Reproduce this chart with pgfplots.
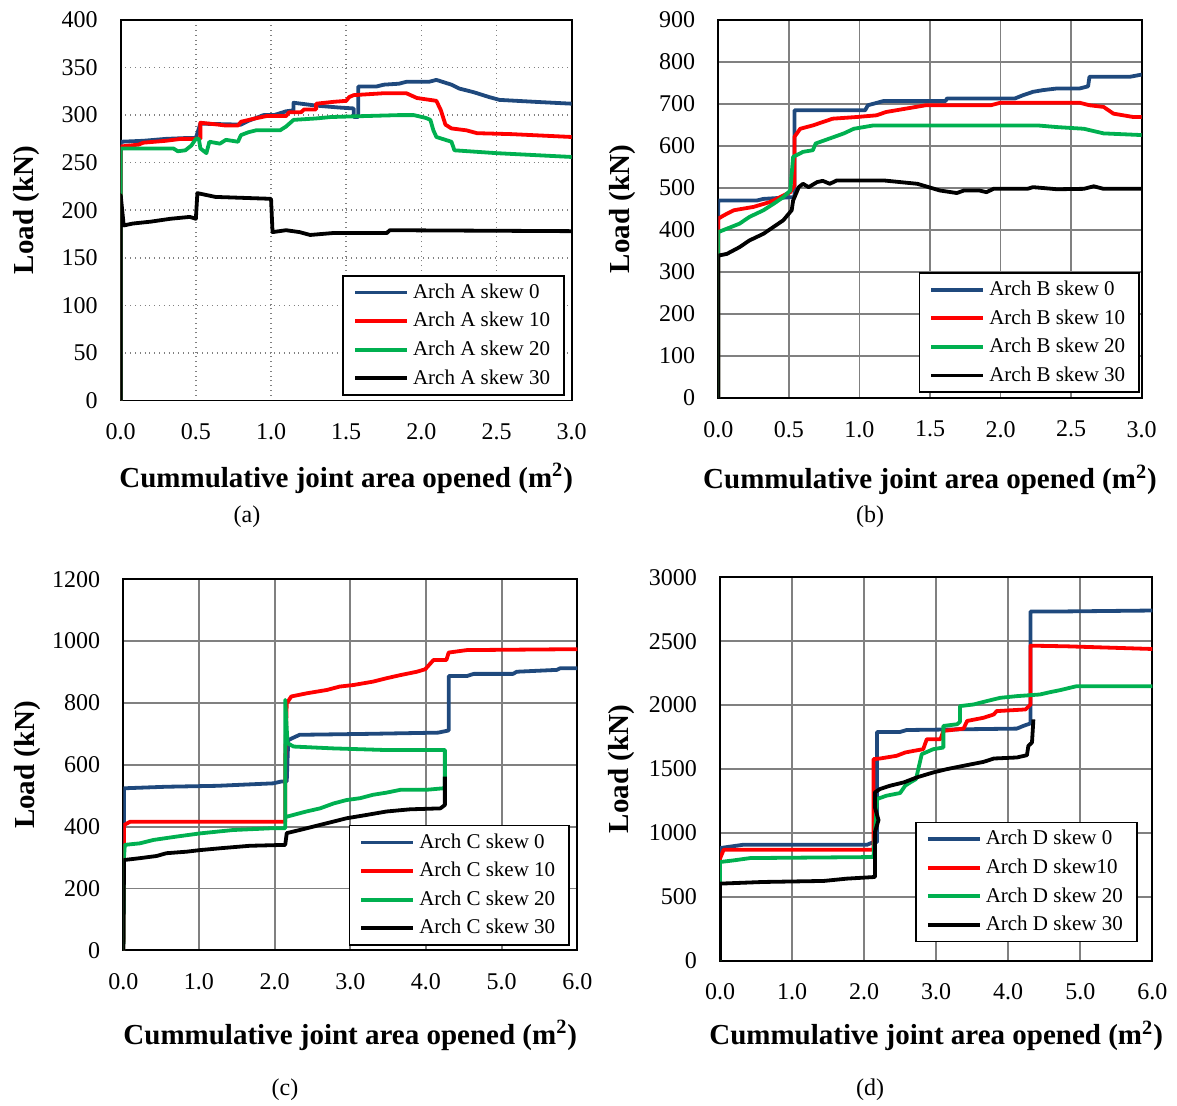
\documentclass[border=0pt]{standalone}
\usepackage{fontspec}
\setmainfont{Liberation Serif}
\usepackage{pgfplots}
\pgfplotsset{compat=1.18}
\definecolor{cblue}{RGB}{31,73,125}
\definecolor{cred}{RGB}{255,0,0}
\definecolor{cgreen}{RGB}{0,176,80}
\pgfplotsset{
  myax/.style={
    scale only axis,
    anchor=south west,
    /pgf/number format/assume math mode=true,
    /pgf/number format/1000 sep={},
    tick label style={font=\fontsize{12}{14}\selectfont},
    xticklabel style={yshift=-8pt},
    yticklabel style={xshift=-8pt},
    major tick length=0pt,
    grid=major,
    axis line style={black, line width=0.9pt},
    xlabel={\textbf{Cummulative joint area opened (m\textsuperscript{2})}},
    ylabel={\textbf{Load (kN)}},
    label style={font=\fontsize{14.5}{17}\selectfont},
    xlabel style={at={(axis description cs:0.5,0)}, anchor=center},
    ylabel style={at={(axis description cs:0,0.5)}, anchor=center},
    legend cell align=left,
    legend image code/.code={\draw[##1] (0pt,0pt) -- (26pt,0pt);},
    legend style={draw=black, thick, font=\fontsize{10.5}{12.6}\selectfont, row sep=1.5pt, inner xsep=5pt, inner ysep=2pt},
    every axis plot/.append style={line width=1.9pt, line join=round},
  },
  solidgrid/.style={grid style={gray, line width=0.9pt}},
}
\begin{document}
\begin{tikzpicture}
\useasboundingbox (0,0) rectangle (588.5pt,553pt);

% ---------------- (a)
\begin{axis}[myax, at={(60.35pt,352.75pt)}, width=225.5pt, height=190.25pt,
  xmin=0, xmax=3, ymin=0, ymax=400,
  xtick={0,0.5,...,3}, ytick={0,50,...,400},
  xticklabel style={/pgf/number format/.cd, fixed, fixed zerofill, precision=1},
  xlabel style={yshift=-39pt}, ylabel style={yshift=47pt},
  grid style={gray, dotted, line width=0.8pt},
  legend style={at={(0.985,0.33)}, anchor=north east}]
\addplot[cblue] coordinates {(0,0) (0,272) (0.15,273) (0.3,275) (0.45,276) (0.5,276) (0.53,291) (0.8,290) (0.85,294) (0.95,300) (1.02,300) (1.1,304) (1.15,305) (1.15,313) (1.3,310) (1.45,308) (1.55,307) (1.55,298) (1.58,298) (1.58,330) (1.7,330) (1.75,332) (1.85,333) (1.9,335) (2.05,335) (2.1,337) (2.2,332) (2.25,328) (2.35,324) (2.45,319) (2.52,316) (2.75,314) (3.0,312)};
\addlegendentry{Arch A skew 0}
\addplot[cred] coordinates {(0,0) (0,267) (0.12,269) (0.15,271) (0.3,273) (0.4,275) (0.53,275) (0.53,292) (0.65,290) (0.7,289) (0.78,289) (0.8,293) (0.88,296) (0.97,299) (1.1,299) (1.12,303) (1.2,303) (1.22,306) (1.3,306) (1.3,312) (1.42,314) (1.5,315) (1.52,319) (1.55,321) (1.75,323) (1.9,323) (1.97,318) (2.1,315) (2.13,305) (2.16,290) (2.2,286) (2.3,284) (2.37,281) (2.6,280) (3.0,277)};
\addlegendentry{Arch A skew 10}
\addplot[cgreen] coordinates {(0,0) (0,265) (0.35,265) (0.38,262) (0.43,263) (0.47,268) (0.5,275) (0.52,275) (0.53,265) (0.57,260) (0.59,272) (0.66,270) (0.7,274) (0.78,272) (0.8,279) (0.85,282) (0.9,284) (1.06,284) (1.1,288) (1.15,295) (1.3,296.5) (1.4,298) (1.85,300) (1.95,300) (2.03,297) (2.06,295) (2.08,284) (2.1,277) (2.2,272) (2.22,263) (2.5,260) (3.0,256)};
\addlegendentry{Arch A skew 20}
\addplot[black] coordinates {(0,0) (0,216) (0.02,184) (0.08,186) (0.2,188) (0.33,191) (0.46,193) (0.5,191) (0.51,218) (0.63,214) (1.0,212) (1.01,177) (1.1,179) (1.19,177) (1.26,174) (1.41,176) (1.77,176) (1.79,179) (3.0,178)};
\addlegendentry{Arch A skew 30}
\end{axis}

% ---------------- (b)
\begin{axis}[myax, solidgrid, at={(359.15pt,354pt)}, width=211.7pt, height=189pt,
  xmin=0, xmax=3, ymin=0, ymax=900,
  xtick={0,0.5,...,3}, ytick={0,100,...,900},
  xticklabel style={/pgf/number format/.cd, fixed, fixed zerofill, precision=1},
  xlabel style={yshift=-41pt}, ylabel style={yshift=48pt},
  legend style={at={(0.996,0.333)}, anchor=north east}]
\addplot[cblue] coordinates {(0,0) (0,470) (0.27,470) (0.32,474) (0.51,478) (0.54,478) (0.54,685) (1.04,685) (1.06,697) (1.17,707) (1.61,707) (1.62,713) (2.1,713) (2.16,721) (2.23,729) (2.3,733) (2.4,737) (2.56,737) (2.62,742) (2.63,765) (2.92,765) (3.0,770)};
\addlegendentry{Arch B skew 0}
\addplot[cred] coordinates {(0,0) (0,427) (0.04,435) (0.11,447) (0.25,455) (0.37,467) (0.46,482) (0.51,490) (0.54,506) (0.54,622) (0.58,641) (0.67,649) (0.74,657) (0.81,665) (0.98,669) (1.12,673) (1.19,681) (1.33,689) (1.47,697) (1.93,697) (2.0,703) (2.56,703) (2.63,697) (2.73,693) (2.8,677) (2.94,669) (3.0,669)};
\addlegendentry{Arch B skew 10}
\addplot[cgreen] coordinates {(0,0) (0,359) (0,395) (0.06,403) (0.15,415) (0.22,431) (0.32,447) (0.39,462) (0.46,478) (0.51,494) (0.53,574) (0.60,586) (0.67,590) (0.69,606) (0.79,618) (0.89,630) (0.96,641) (1.1,649) (2.26,649) (2.4,645) (2.59,641) (2.73,630) (3.0,626)};
\addlegendentry{Arch B skew 20}
\addplot[black] coordinates {(0,0) (0,339) (0.06,343) (0.15,359) (0.22,375) (0.32,391) (0.39,407) (0.46,423) (0.52,447) (0.53,470) (0.57,502) (0.60,510) (0.64,502) (0.70,514) (0.74,517) (0.79,510) (0.84,518) (1.17,518) (1.41,510) (1.57,494) (1.69,488) (1.74,494) (1.85,494) (1.90,490) (1.95,498) (2.19,498) (2.23,502) (2.40,497) (2.59,498) (2.66,504) (2.73,498) (3.0,498)};
\addlegendentry{Arch B skew 30}
\end{axis}

% ---------------- (c)
\begin{axis}[myax, solidgrid, at={(61.65pt,77.85pt)}, width=227pt, height=185.5pt,
  xmin=0, xmax=6, ymin=0, ymax=1200,
  xtick={0,1,...,6}, ytick={0,200,...,1200},
  xticklabel style={/pgf/number format/.cd, fixed, fixed zerofill, precision=1},
  xlabel style={yshift=-42.5pt}, ylabel style={yshift=48pt},
  legend style={at={(0.984,0.338)}, anchor=north east}]
\addplot[cblue] coordinates {(0,0) (0.01,524) (0.57,529) (1.24,532) (1.98,540) (2.09,546) (2.16,546) (2.18,680) (2.33,697) (3.22,700) (4.16,704) (4.3,711) (4.3,887) (4.54,887) (4.63,894) (5.15,894) (5.2,901) (5.73,907) (5.77,912) (6.0,912)};
\addlegendentry{Arch C skew 0}
\addplot[cred] coordinates {(0,0) (0.01,405) (0.09,416) (2.14,416) (2.14,616) (2.16,799) (2.22,821) (2.42,831) (2.69,842) (2.86,853) (3.04,858) (3.3,869) (3.48,880) (3.66,890) (3.88,901) (3.99,909) (4.1,939) (4.27,939) (4.3,963) (4.54,971) (6.0,974)};
\addlegendentry{Arch C skew 10}
\addplot[cgreen] coordinates {(0,0) (0.01,303) (0.02,341) (0.22,346) (0.40,357) (0.71,368) (1.01,378) (1.45,389) (1.98,395) (2.14,395) (2.14,810) (2.17,670) (2.25,659) (2.78,653) (3.44,648) (4.25,648) (4.25,524) (4.23,524) (4.0,519) (3.66,519) (3.48,510) (3.3,503) (3.13,492) (2.95,486) (2.78,475) (2.6,459) (2.42,449) (2.25,438) (2.16,432)};
\addlegendentry{Arch C skew 20}
\addplot[black] coordinates {(0,0) (0.01,292) (0.22,298) (0.44,305) (0.57,314) (0.84,319) (1.01,324) (1.28,330) (1.67,338) (2.14,341) (2.16,379) (2.33,389) (2.51,400) (2.69,411) (2.95,427) (3.22,438) (3.48,449) (3.79,456) (4.19,459) (4.25,470) (4.25,562)};
\addlegendentry{Arch C skew 30}
\end{axis}

% ---------------- (d)
\begin{axis}[myax, solidgrid, at={(360pt,72.65pt)}, width=216.15pt, height=191.7pt,
  xmin=0, xmax=6, ymin=0, ymax=3000,
  xtick={0,1,...,6}, ytick={0,500,...,3000},
  xticklabel style={/pgf/number format/.cd, fixed, fixed zerofill, precision=1},
  xlabel style={yshift=-37.5pt}, ylabel style={yshift=49pt},
  legend style={at={(0.966,0.363)}, anchor=north east}]
\addplot[cblue] coordinates {(0,0) (0,881) (0.32,907) (2.04,907) (2.13,928) (2.18,928) (2.18,1790) (2.5,1790) (2.59,1805) (4.12,1816) (4.21,1837) (4.31,1857) (4.31,2733) (4.81,2733) (6.0,2740)};
\addlegendentry{Arch D skew 0}
\addplot[cred] coordinates {(0,0) (0,798) (0.05,868) (2.13,868) (2.13,1577) (2.22,1582) (2.45,1603) (2.57,1629) (2.69,1642) (2.82,1655) (2.87,1733) (3.06,1733) (3.1,1798) (3.38,1816) (3.43,1876) (3.66,1901) (3.8,1927) (3.84,1953) (4.24,1966) (4.31,2005) (4.31,2465) (4.81,2460) (6.0,2439)};
\addlegendentry{Arch D skew10}
\addplot[cgreen] coordinates {(0,0) (0,772) (0.19,785) (0.42,803) (2.13,811) (2.18,1265) (2.31,1291) (2.5,1312) (2.57,1369) (2.64,1395) (2.72,1421) (2.8,1616) (2.96,1655) (3.1,1668) (3.1,1837) (3.29,1850) (3.33,1868) (3.33,1992) (3.52,2005) (3.7,2031) (3.89,2057) (4.12,2070) (4.44,2083) (4.58,2101) (4.72,2117) (4.95,2148) (6.0,2148)};
\addlegendentry{Arch D skew 20}
\addplot[black] coordinates {(0,0) (0,603) (0.6,616) (1.44,624) (1.76,642) (2.15,655) (2.15,1005) (2.2,1100) (2.15,1200) (2.15,1317) (2.22,1343) (2.36,1369) (2.55,1395) (2.73,1434) (2.96,1473) (3.15,1499) (3.38,1525) (3.66,1556) (3.8,1582) (4.12,1590) (4.26,1608) (4.28,1681) (4.33,1707) (4.35,1888)};
\addlegendentry{Arch D skew 30}
\end{axis}

\node[font=\fontsize{12}{14}\selectfont] at (123.5pt,294.5pt) {(a)};
\node[font=\fontsize{12}{14}\selectfont] at (435pt,294.5pt) {(b)};
\node[font=\fontsize{12}{14}\selectfont] at (142.5pt,8pt) {(c)};
\node[font=\fontsize{12}{14}\selectfont] at (435pt,8pt) {(d)};
\end{tikzpicture}
\end{document}
